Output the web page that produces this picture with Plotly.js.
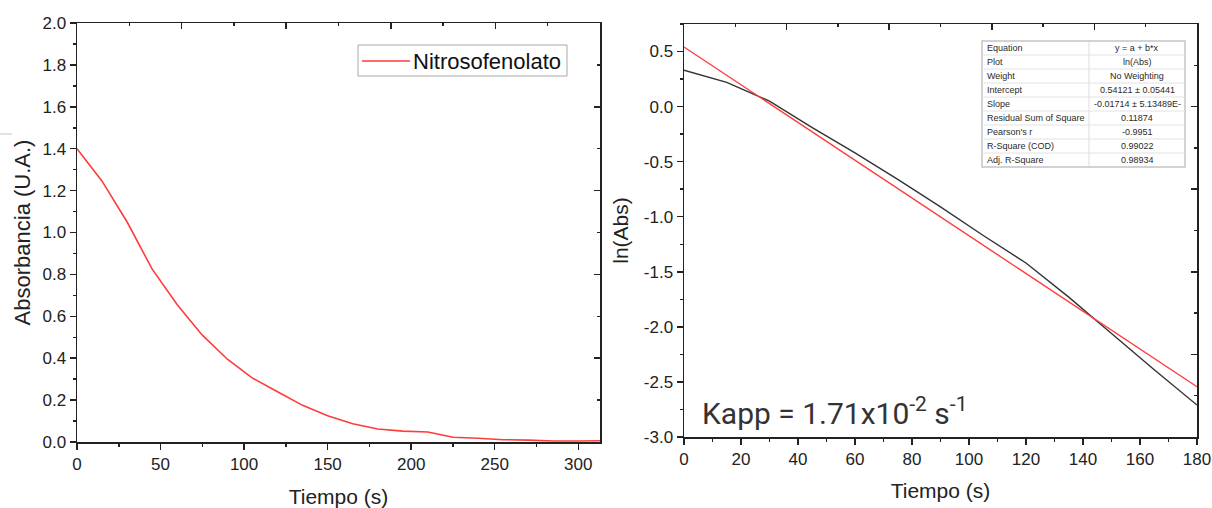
<!DOCTYPE html>
<html>
<head>
<meta charset="utf-8">
<script src="https://cdn.plot.ly/plotly-3.0.1.min.js"></script>
<style>html,body{margin:0;padding:0;background:#fff;}#chart{width:1212px;height:508px;}</style>
</head>
<body>
<div id="chart"></div>
<script>
// ---- Left panel data: absorbance vs time ----
const timeAbs = [0,15,30,45,60,75,90,105,120,135,150,165,180,195,210,225,240,255,270,285,300,315];
const absValues = [1.40,1.245,1.05,0.825,0.655,0.51,0.395,0.305,0.24,0.175,0.125,0.087,0.062,0.052,0.048,0.023,0.018,0.011,0.009,0.005,0.005,0.006];
const seriesName = 'Nitrosofenolato';

// ---- Right panel data: ln(Abs) vs time and linear fit ----
const timeLn = [0,15,30,45,60,75,90,105,120,135,150,165,180];
const lnAbsValues = [0.33,0.22,0.05,-0.19,-0.42,-0.66,-0.91,-1.17,-1.42,-1.73,-2.06,-2.39,-2.71];
const fitX = [0,180];
const fitY = [0.541,-2.544];

// ---- Tick labels (right panel uses plain hyphen-minus) ----
const lnTickVals = [-3,-2.5,-2,-1.5,-1,-0.5,0,0.5];
const lnTickText = ['-3.0','-2.5','-2.0','-1.5','-1.0','-0.5','0.0','0.5'];

// ---- Fit table ----
const tableLabels = ['Equation','Plot','Weight','Intercept','Slope','Residual Sum of Square',"Pearson's r",'R-Square (COD)','Adj. R-Square'];
const tableValues = ['y = a + b*x','ln(Abs)','No Weighting','0.54121 ± 0.05441','-0.01714 ± 5.13489E-','0.11874','-0.9951','0.99022','0.98934'];
const kappText = 'Kapp = 1.71x10<sup>-2</sup> s<sup>-1</sup>';

const FONT = 'Liberation Sans, Arial, sans-serif';
const AX = '#222';
const RED = '#ff3b3b';
const W = 1212, H = 508;
const px = v => v / W;
const py = v => 1 - v / H;

const LX = [px(77), px(600)], LY = [py(442), py(23)];
const RX = [px(684), px(1197)], RY = [py(437), py(24)];

function mainAxis(extra){
  return Object.assign({
    showline:true, mirror:true, linecolor:AX, linewidth:1.5,
    ticks:'outside', ticklen:6, tickwidth:1.5, tickcolor:AX,
    showgrid:false, zeroline:false,
    tickfont:{family:FONT, size:17, color:'#222'},
    fixedrange:true
  }, extra);
}
// top / right frame axes with inward ticks (10 divisions, as in the reference)
function frameAxis(extra){
  return Object.assign({
    range:[0,1], autorange:false, tickmode:'linear', dtick:0.2, tick0:0,
    ticks:'inside', ticklen:6, tickwidth:1.5, tickcolor:AX,
    minor:{ticks:'inside', dtick:0.1, tick0:0, ticklen:3, tickwidth:1.5, tickcolor:AX, showgrid:false},
    showticklabels:false, showline:false, showgrid:false, zeroline:false, fixedrange:true
  }, extra);
}

const hidden = {type:'scatter', mode:'lines', line:{color:'rgba(0,0,0,0)', width:0}, showlegend:false, hoverinfo:'skip'};

const traces = [
  {x:timeAbs, y:absValues, type:'scatter', mode:'lines', name:seriesName,
   line:{color:RED, width:1.6}, xaxis:'x', yaxis:'y', showlegend:false},
  {x:timeLn, y:lnAbsValues, type:'scatter', mode:'lines', name:'ln(Abs)',
   line:{color:'#333', width:1.4}, xaxis:'x2', yaxis:'y2', showlegend:false},
  {x:fitX, y:fitY, type:'scatter', mode:'lines', name:'Linear fit',
   line:{color:RED, width:1.4}, xaxis:'x2', yaxis:'y2', showlegend:false},
  // invisible copies carrying the frame (top / right) tick axes
  Object.assign({x:timeAbs, y:absValues, xaxis:'x3', yaxis:'y3'}, hidden),
  Object.assign({x:timeLn, y:lnAbsValues, xaxis:'x4', yaxis:'y4'}, hidden)
];

// ---- table + legend drawn as shapes + annotations ----
const tX0 = 982, tX1 = 1185, tXm = 1089, tY0 = 41, rowH = 14;
const shapes = [
  {type:'rect', xref:'paper', yref:'paper', x0:px(tX0), x1:px(tX1), y0:py(tY0), y1:py(tY0 + rowH*tableLabels.length),
   fillcolor:'#fff', line:{color:'#c4c4c4', width:1.5}, layer:'above'},
  {type:'line', xref:'paper', yref:'paper', x0:px(tXm), x1:px(tXm), y0:py(tY0), y1:py(tY0 + rowH*tableLabels.length),
   line:{color:'#dcdcdc', width:1}, layer:'above'},
  {type:'line', xref:'paper', yref:'paper', x0:0, x1:px(12), y0:py(134), y1:py(134),
   line:{color:'#d8d8d8', width:1.5}},
  {type:'rect', xref:'paper', yref:'paper', x0:px(358), x1:px(567), y0:py(45), y1:py(76),
   fillcolor:'#fff', line:{color:'#a8a8a8', width:1}, layer:'above'},
  {type:'line', xref:'paper', yref:'paper', x0:px(362), x1:px(410), y0:py(61), y1:py(61),
   line:{color:RED, width:1.6}, layer:'above'}
];
const annotations = [
  {xref:'paper', yref:'paper', x:px(700), y:py(411), xanchor:'left', yanchor:'middle',
   text:kappText, showarrow:false, font:{family:'Roboto, sans-serif', size:30, color:'#333'}},
  {xref:'paper', yref:'paper', x:px(411), y:py(61), xanchor:'left', yanchor:'middle',
   text:seriesName, showarrow:false, font:{family:FONT, size:22, color:'#111'}}
];
tableLabels.forEach((lab, i) => {
  const yc = tY0 + rowH*i + rowH/2;
  if (i > 0) shapes.push({type:'line', xref:'paper', yref:'paper', x0:px(tX0), x1:px(tX1),
    y0:py(tY0 + rowH*i), y1:py(tY0 + rowH*i), line:{color:'#e2e2e2', width:1}, layer:'above'});
  annotations.push({xref:'paper', yref:'paper', x:px(tX0 + 3), y:py(yc), xanchor:'left', yanchor:'middle',
    text:lab, showarrow:false, font:{family:FONT, size:9, color:'#2a2a2a'}});
  annotations.push({xref:'paper', yref:'paper', x:px((tXm + tX1)/2), y:py(yc), xanchor:'center', yanchor:'middle',
    text:tableValues[i], showarrow:false, font:{family:FONT, size:9, color:'#2a2a2a'}});
});

const layout = {
  width:W, height:H, autosize:false,
  margin:{l:0, r:0, t:0, b:0},
  paper_bgcolor:'#fff', plot_bgcolor:'rgba(0,0,0,0)',
  font:{family:FONT, color:'#222'},
  showlegend:false,
  xaxis: mainAxis({domain:LX, anchor:'y', range:[0,313], dtick:50,
    minor:{ticks:'outside', dtick:25, ticklen:3, tickwidth:1.5, tickcolor:AX, showgrid:false},
    title:{text:'Tiempo (s)', font:{family:FONT, size:21, color:'#222'}, standoff:16}}),
  yaxis: mainAxis({domain:LY, anchor:'x', range:[0,2], dtick:0.2, tickformat:'.1f',
    minor:{ticks:'outside', dtick:0.1, ticklen:3, tickwidth:1.5, tickcolor:AX, showgrid:false},
    title:{text:'Absorbancia (U.A.)', font:{family:FONT, size:22, color:'#222'}, standoff:6}}),
  xaxis3: frameAxis({domain:LX, side:'top', anchor:'y3'}),
  yaxis3: frameAxis({domain:LY, side:'right', anchor:'x3'}),
  xaxis2: mainAxis({domain:RX, anchor:'y2', range:[0,180], dtick:20,
    minor:{ticks:'outside', dtick:10, ticklen:3, tickwidth:1.5, tickcolor:AX, showgrid:false},
    title:{text:'Tiempo (s)', font:{family:FONT, size:21, color:'#222'}, standoff:15}}),
  yaxis2: mainAxis({domain:RY, anchor:'x2', range:[-3,0.75],
    tickmode:'array', tickvals:lnTickVals, ticktext:lnTickText,
    minor:{ticks:'outside', dtick:0.25, tick0:0, ticklen:3, tickwidth:1.5, tickcolor:AX, showgrid:false},
    title:{text:'ln(Abs)', font:{family:FONT, size:21, color:'#222'}, standoff:9}}),
  xaxis4: frameAxis({domain:RX, side:'top', anchor:'y4'}),
  yaxis4: frameAxis({domain:RY, side:'right', anchor:'x4'}),
  annotations: annotations,
  shapes: shapes
};

Plotly.newPlot('chart', traces, layout, {displayModeBar:false, staticPlot:true});
</script>
</body>
</html>
